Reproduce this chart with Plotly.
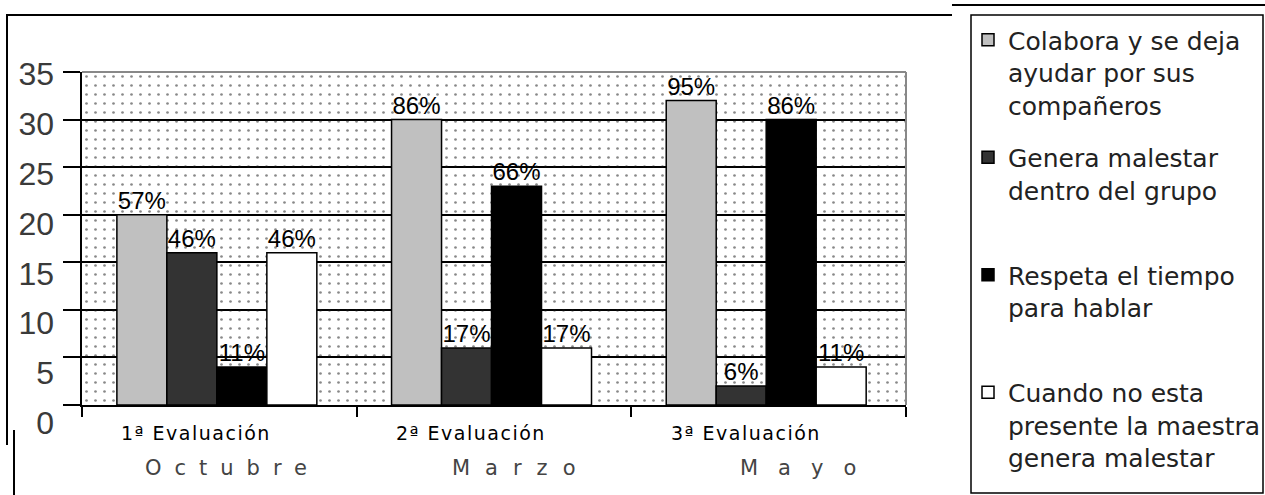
import plotly.graph_objects as go

# ---------------- data ----------------
categories = ["1ª Evaluación", "2ª Evaluación", "3ª Evaluación"]
months = ["Octubre", "Marzo", "Mayo"]
series_names = [
    "Colabora y se deja<br>ayudar por sus<br>compañeros",
    "Genera malestar<br>dentro del grupo",
    "Respeta el tiempo<br>para hablar",
    "Cuando no esta<br>presente la maestra<br>genera malestar",
]
colabora = [20, 30, 32]
genera = [16, 6, 2]
respeta = [4, 23, 30]
cuando = [16, 6, 4]
colabora_pct = ["57%", "86%", "95%"]
genera_pct = ["46%", "17%", "6%"]
respeta_pct = ["11%", "66%", "86%"]
cuando_pct = ["46%", "17%", "11%"]
y_ticks = [0, 5, 10, 15, 20, 25, 30, 35]

# ---------------- styles / layout ----------------
W, H = 1265, 495
ML, MR, MT, MB = 82, 359, 72, 65
PW, PH = W - ML - MR, H - MT - MB
plot_bottom_px = 405
y_dom0 = ((H - MB) - plot_bottom_px) / PH


def px2x(px):
    return (px - ML) / PW


def py2y(py):
    return (H - MB - py) / PH


colors = ["#C0C0C0", "#333333", "#000000", "#FFFFFF"]
values = [colabora, genera, respeta, cuando]
labels = [colabora_pct, genera_pct, respeta_pct, cuando_pct]
xpos = list(range(len(categories)))
bar_w = 0.182
start = -0.373
y_max = y_ticks[-1]
x_range = [-0.5, len(categories) - 0.5]

fig = go.Figure()

# dotted plot background (decoration spanning the axis range)
fig.add_trace(go.Bar(
    x=[sum(x_range) / 2], y=[y_max], base=[0], width=[x_range[1] - x_range[0]],
    marker=dict(color="rgba(0,0,0,0)", line=dict(width=0),
                pattern=dict(shape=".", size=9, solidity=0.07,
                             fgcolor="#111111", bgcolor="rgba(0,0,0,0)")),
    showlegend=False, hoverinfo="skip",
))

for i, (name, vals, col) in enumerate(zip(series_names, values, colors)):
    disp = name
    if i in (1, 2):
        disp = name + "<br> "
    fig.add_trace(go.Bar(
        x=xpos, y=vals, name=disp, width=bar_w, offset=start + i * bar_w,
        legendgroup="g%d" % i,
        marker=dict(color=col, line=dict(color="black", width=1.5)),
        hoverinfo="skip",
    ))

# percentage labels sitting on top of each bar
for i, (vals, lab) in enumerate(zip(values, labels)):
    centers = [x + start + i * bar_w + bar_w / 2 for x in xpos]
    fig.add_trace(go.Scatter(
        x=centers, y=vals, mode="text", text=lab, textposition="top center",
        textfont=dict(family="Liberation Sans, Arial", size=24, color="black"),
        cliponaxis=False, showlegend=False, hoverinfo="skip",
    ))

# invisible helper trace so the tick-label axis is drawn
fig.add_trace(go.Scatter(x=[None], y=[None], yaxis="y3", mode="markers",
                         showlegend=False, hoverinfo="skip"))

annotations = []
cat_ls = 1.5
for i, c in enumerate(categories):
    annotations.append(dict(
        x=i, y=0, xref="x", yref="y",
        text='<span style="letter-spacing:%spx">%s</span>' % (cat_ls, c),
        showarrow=False, xshift=-23, yshift=-28, yanchor="middle",
        font=dict(family="DejaVu Sans", size=19, color="black"),
    ))
month_center_shift = [7, 20, 29]
month_ls = [13, 15, 20]
for i, m in enumerate(months):
    annotations.append(dict(
        x=i, y=0, xref="x", yref="y",
        text='<span style="letter-spacing:%dpx">%s</span>' % (month_ls[i], m),
        showarrow=False, xshift=month_center_shift[i] + month_ls[i] / 2, yshift=-63,
        yanchor="middle",
        font=dict(family="DejaVu Sans", size=21, color="#444444"),
    ))

line_k = dict(color="black", width=2)
shapes = [
    # plot area top/right border (gray)
    dict(type="line", xref="x domain", yref="y domain", x0=0, x1=1, y0=1, y1=1,
         line=dict(color="#888888", width=2), layer="above"),
    dict(type="line", xref="x domain", yref="y domain", x0=1, x1=1, y0=0, y1=1,
         line=dict(color="#888888", width=2), layer="above"),
    # outer frame fragments
    dict(type="line", xref="paper", yref="paper", x0=px2x(6), x1=px2x(952),
         y0=py2y(15), y1=py2y(15), line=line_k),
    dict(type="line", xref="paper", yref="paper", x0=px2x(7), x1=px2x(7),
         y0=py2y(15), y1=py2y(445), line=line_k),
    dict(type="line", xref="paper", yref="paper", x0=px2x(14), x1=px2x(14),
         y0=py2y(430), y1=py2y(495), line=line_k),
    dict(type="line", xref="paper", yref="paper", x0=px2x(952), x1=px2x(1265),
         y0=py2y(5), y1=py2y(5), line=line_k),
    # legend box
    dict(type="rect", xref="paper", yref="paper", x0=px2x(971), x1=px2x(1263),
         y0=py2y(15), y1=py2y(493), line=dict(color="black", width=1.5)),
]

fig.update_layout(
    width=W, height=H,
    margin=dict(l=ML, r=MR, t=MT, b=MB, pad=0),
    barmode="overlay",
    paper_bgcolor="white", plot_bgcolor="rgba(0,0,0,0)",
    xaxis=dict(range=x_range, domain=[0, 1], tickmode="array",
               tickvals=[k - 0.5 for k in range(len(categories) + 1)],
               ticks="outside", ticklen=10, tickwidth=2, tickcolor="black",
               showticklabels=False, showgrid=False, zeroline=False,
               showline=True, linecolor="black", linewidth=2),
    yaxis=dict(range=[0, y_max], domain=[y_dom0, 1], tickmode="array", tickvals=y_ticks,
               ticks="outside", ticklen=17, tickwidth=2, tickcolor="black",
               showticklabels=False, showgrid=True, gridcolor="black", gridwidth=2,
               zeroline=False, showline=True, linecolor="black", linewidth=2),
    yaxis3=dict(range=[0, y_max], domain=[py2y(423), py2y(74)], anchor="free", position=0,
                tickmode="array", tickvals=y_ticks, ticks="", showgrid=False,
                zeroline=False, showline=False, ticklabelstandoff=28,
                tickfont=dict(family="Liberation Sans Narrow, Arial Narrow, Liberation Sans",
                              size=32, color="#3a3a3a")),
    legend=dict(xref="container", yref="container", x=968 / W, y=1 - 17 / H,
                xanchor="left", yanchor="top", bgcolor="rgba(0,0,0,0)",
                borderwidth=0, valign="top", traceorder="grouped",
                font=dict(family="DejaVu Sans", size=25, color="#222222"),
                tracegroupgap=17),
    annotations=annotations,
    shapes=shapes,
    showlegend=True,
)
try:
    fig.update_layout(legend_maxheight=600)
except Exception:
    pass

fig.write_html("out.html", config={"displayModeBar": False},
               post_script="document.body.style.margin='0px';")
